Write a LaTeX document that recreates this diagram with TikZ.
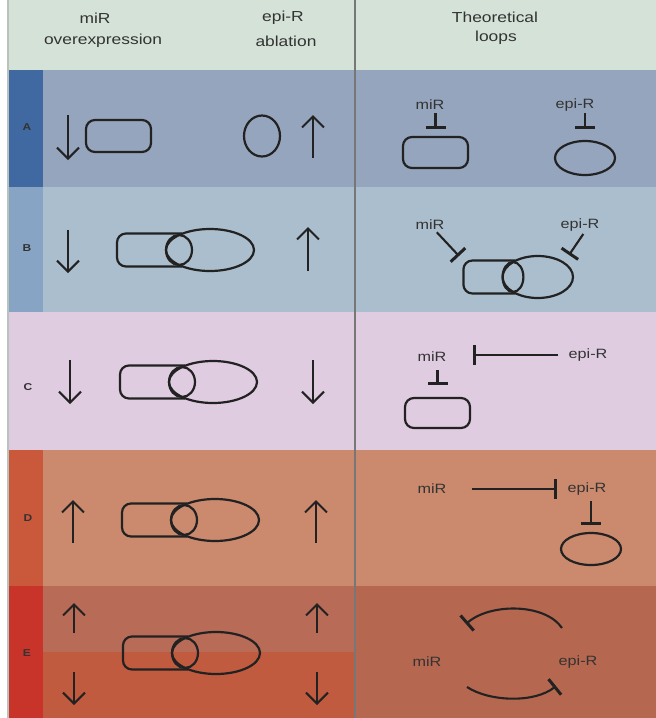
\documentclass[tikz,border=0pt]{standalone}
\usepackage{fontspec}
\setmainfont[FakeStretch=1.2]{Liberation Sans}
\usetikzlibrary{arrows.meta,shapes.geometric,calc}
\definecolor{hdr}{HTML}{D5E2D8}
\definecolor{rowA}{HTML}{95A5BD}
\definecolor{stripA}{HTML}{4069A2}
\definecolor{rowB}{HTML}{ABBECD}
\definecolor{stripB}{HTML}{87A4C5}
\definecolor{rowC}{HTML}{E0CCE0}
\definecolor{rowD}{HTML}{CB8A6E}
\definecolor{stripD}{HTML}{C9593A}
\definecolor{rowEu}{HTML}{B86B56}
\definecolor{rowEl}{HTML}{C15B3F}
\definecolor{rowEr}{HTML}{B6674F}
\definecolor{stripE}{HTML}{C8342A}
\definecolor{ink}{HTML}{222222}
\definecolor{labc}{HTML}{333333}
\definecolor{divc}{HTML}{777777}
\definecolor{edgec}{HTML}{B9C2BC}
\newcommand\mycombo[4]{% name, cx, cy, xscale
  \coordinate (#1) at (#2,#3);
  \begin{scope}[shift={(#2,#3)}, xscale=#4]
    \draw[shapeline, rounded corners=9pt] (3,-16.5) -- (-62,-16.5) -- (-62,16.5) -- (3,16.5);
    \draw[shapeline] (0,0) ellipse [x radius=13, y radius=15];
    \draw[shapeline] (31,0) ellipse [x radius=44, y radius=21];
  \end{scope}}
\begin{document}
\begin{tikzpicture}[x=1pt,y=-1pt,
  shapeline/.style={draw=ink, line width=2.2pt},
  rr/.style={draw=ink, line width=2.2pt, rounded corners=9pt, inner sep=0, minimum width=65pt, minimum height=31pt},
  ell/.style={ellipse, draw=ink, line width=2.2pt, inner sep=0},
  updown/.style={draw=ink, line width=2.1pt, -{Straight Barb[length=11pt,width=22pt]}},
  inh/.style={draw=ink, line width=2.1pt, -{Bar[width=20pt,line width=3pt]}},
  lab/.style={font=\fontsize{13.5}{15}\selectfont, text=labc, inner sep=0},
  hdrtext/.style={font=\fontsize{14.5}{16}\selectfont, text=labc, inner sep=0},
  letter/.style={font=\fontsize{10}{12}\selectfont\bfseries, text=labc, inner sep=0}]
\useasboundingbox (0,0) rectangle (656,718);
% backgrounds
\fill[white] (0,0) rectangle (656,718);
\fill[hdr] (8,0) rectangle (656,70);
\fill[rowA] (8,70) rectangle (656,187);
\fill[rowB] (8,187) rectangle (656,312);
\fill[rowC] (8,312) rectangle (656,450);
\fill[rowD] (8,450) rectangle (656,586);
\fill[rowEu] (8,586) rectangle (355,652);
\fill[rowEl] (8,652) rectangle (355,718);
\fill[rowEr] (355,586) rectangle (656,718);
\fill[stripA] (8,70) rectangle (43,187);
\fill[stripB] (8,187) rectangle (43,312);
\fill[stripD] (8,450) rectangle (43,586);
\fill[stripE] (8,586) rectangle (43,718);
\draw[edgec, line width=1.5pt] (8,0) -- (8,718);
\draw[divc, line width=1.5pt] (355,0) -- (355,718);
% header
\node[hdrtext] (h1) at (95,18) {miR};
\node[hdrtext] (h2) at (103,41) {overexpression};
\node[hdrtext] (h3) at (283,18) {epi-R};
\node[hdrtext] (h4) at (286,41) {ablation};
\node[hdrtext] (h5) at (495,17) {Theoretical};
\node[hdrtext] (h6) at (496,38) {loops};
% letters
\node[letter] (LA) at (27,127) {A};
\node[letter] (LB) at (27,248) {B};
\node[letter] (LC) at (28,387) {C};
\node[letter] (LD) at (28,518) {D};
\node[letter] (LE) at (27,653) {E};
% ---- Row A
\coordinate (aA1) at (68,115); \coordinate (aA2) at (68,160);
\draw[updown] (aA1) -- (aA2);
\node[rr, minimum height=32pt] (rectAL) at (118.5,136) {};
\node[ell, minimum width=36pt, minimum height=41pt] (circAL) at (262,136) {};
\coordinate (aA3) at (313,158); \coordinate (aA4) at (313,115);
\draw[updown] (aA3) -- (aA4);
\node[lab] (miRA) at (430,105) {miR};
\node[rr] (rectAR) at (435.5,152.5) {};
\draw[inh, shorten <=3pt, shorten >=7pt] (miRA.south -| rectAR) -- (rectAR.north);
\node[lab] (epiA) at (575,105) {epi-R};
\node[ell, minimum width=60pt, minimum height=34pt] (ellAR) at (585,158) {};
\draw[inh, shorten <=2pt, shorten >=11pt] (epiA.south -| ellAR) -- (ellAR.north);
% ---- Row B
\coordinate (aB1) at (68,230); \coordinate (aB2) at (68,273);
\draw[updown] (aB1) -- (aB2);
\mycombo{comboB}{179}{250}{1}
\coordinate (aB3) at (308,271); \coordinate (aB4) at (308,227);
\draw[updown] (aB3) -- (aB4);
\node[lab] (miRB) at (430,225) {miR};
\node[lab] (epiB) at (580,225) {epi-R};
\mycombo{comboBR}{513}{277}{0.8}
\coordinate (tB1) at (459,256);
\coordinate (tB2) at (569,255);
\draw[inh, shorten <=3pt] (miRB) -- (tB1);
\draw[inh, shorten <=3pt] ([xshift=5pt]epiB.south) -- (tB2);
% ---- Row C
\coordinate (aC1) at (70,360); \coordinate (aC2) at (70,404);
\draw[updown] (aC1) -- (aC2);
\mycombo{comboC}{182}{382}{1}
\coordinate (aC3) at (313,360); \coordinate (aC4) at (313,404);
\draw[updown] (aC3) -- (aC4);
\node[lab] (miRC) at (432,357) {miR};
\node[rr, minimum height=30pt] (rectCR) at (437.5,413) {};
\draw[inh, shorten <=8pt, shorten >=12pt] (miRC.south -| rectCR) -- (rectCR.north);
\node[lab] (epiC) at (588,355) {epi-R};
\coordinate (tC) at (473,355);
\draw[inh, shorten <=10pt] (epiC) -- (tC);
% ---- Row D
\coordinate (aD1) at (73,543); \coordinate (aD2) at (73,500);
\draw[updown] (aD1) -- (aD2);
\mycombo{comboD}{184}{520}{1}
\coordinate (aD3) at (316,543); \coordinate (aD4) at (316,500);
\draw[updown] (aD3) -- (aD4);
\node[lab] (miRD) at (432,489) {miR};
\node[lab] (epiD) at (587,489) {epi-R};
\draw[inh, shorten <=25pt, shorten >=10pt] (miRD) -- (epiD);
\node[ell, minimum width=60pt, minimum height=32pt] (ellDR) at (591,549) {};
\draw[inh, shorten <=6pt, shorten >=7pt] (epiD.south -| ellDR) -- (ellDR.north);
% ---- Row E
\coordinate (aE1) at (74,633); \coordinate (aE2) at (74,603);
\draw[updown] (aE1) -- (aE2);
\coordinate (aE3) at (317,633); \coordinate (aE4) at (317,603);
\draw[updown] (aE3) -- (aE4);
\coordinate (aE5) at (74,672); \coordinate (aE6) at (74,705);
\draw[updown] (aE5) -- (aE6);
\coordinate (aE7) at (317,672); \coordinate (aE8) at (317,705);
\draw[updown] (aE7) -- (aE8);
\mycombo{comboE}{185}{653}{1}
\node[lab] (miRE) at (427,662) {miR};
\node[lab] (epiE) at (578,662) {epi-R};
\coordinate (eT1) at (562,628); \coordinate (eT2) at (466,624);
\draw[inh] (eT1) .. controls (545,603) and (490,603) .. (eT2);
\coordinate (eB1) at (467,687); \coordinate (eB2) at (556,686);
\draw[inh] (eB1) .. controls (490,702) and (535,703) .. (eB2);
\end{tikzpicture}
\end{document}
